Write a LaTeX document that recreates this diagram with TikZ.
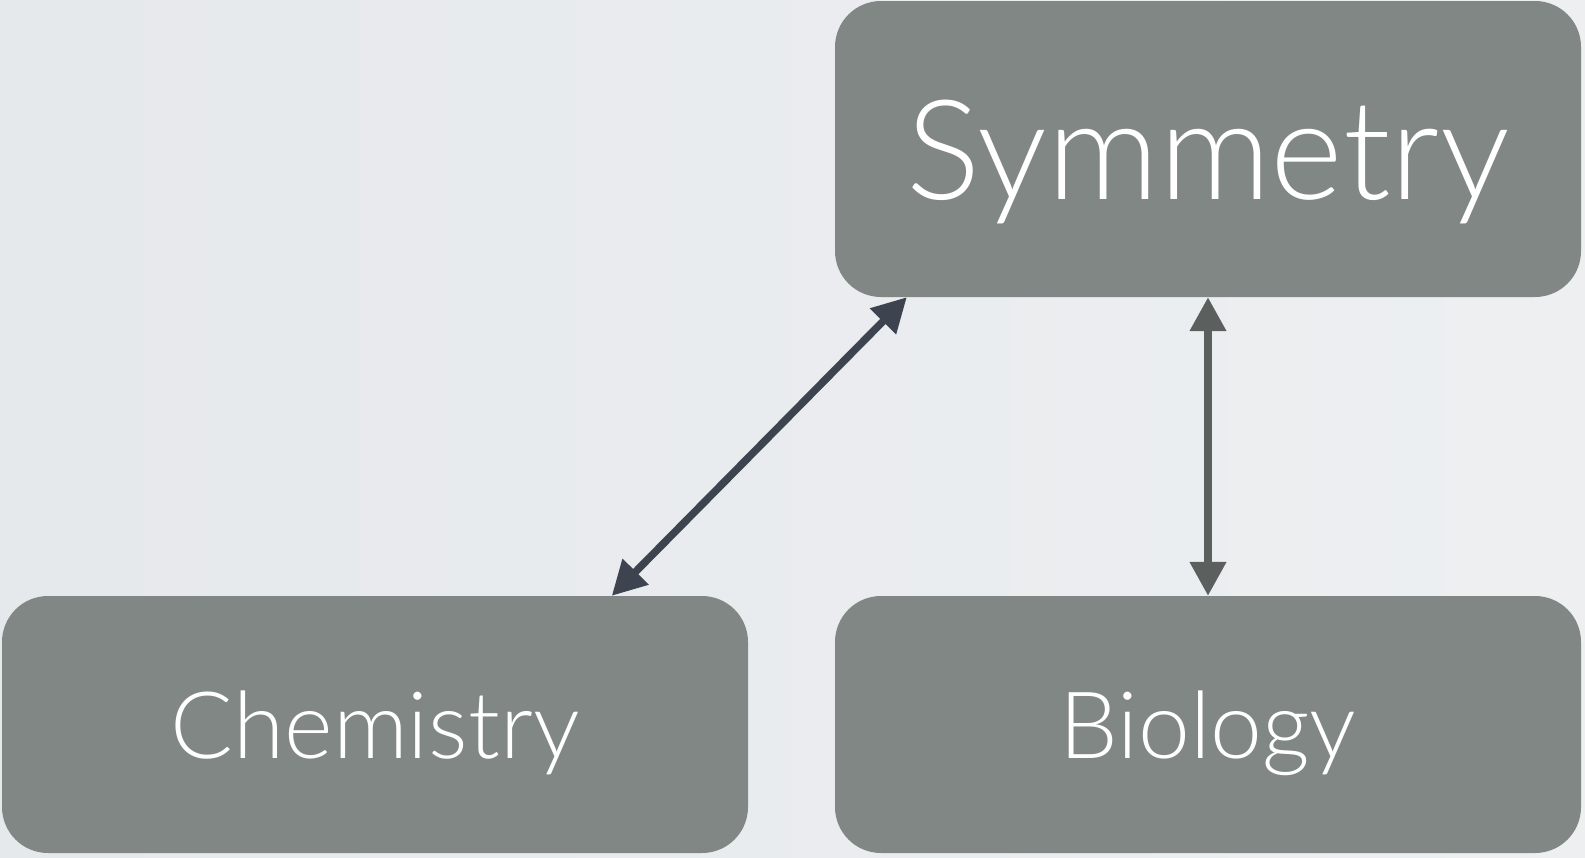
\documentclass[tikz,border=0pt]{standalone}
\usepackage{fontspec}
\setmainfont{Lato Light}
\usetikzlibrary{arrows.meta,calc}
\definecolor{boxgray}{RGB}{129,135,132}
\definecolor{linkdark}{RGB}{62,67,80}
\definecolor{linkgray}{RGB}{91,95,94}
\definecolor{bgleft}{RGB}{228,231,234}
\definecolor{bgright}{RGB}{239,241,243}
\tikzset{
  topic/.style={rectangle, rounded corners=46pt, fill=boxgray, text=white,
    inner sep=0pt, minimum width=746pt, text depth=0pt},
  bigtopic/.style={topic, minimum height=296pt, font=\fontsize{139}{160}\selectfont, text height=100pt},
  smalltopic/.style={topic, minimum height=257pt, font=\fontsize{93}{110}\selectfont, text height=67pt},
  link/.style={line width=7.5pt, {Triangle[length=34pt,width=35pt]}-{Triangle[length=34pt,width=35pt]}}
}
\begin{document}
\begin{tikzpicture}[x=1pt,y=-1pt]
  \useasboundingbox (0,0) rectangle (1585,857);
  \shade[shading angle=-60, left color=bgleft, right color=bgright] (-400,-400) rectangle (1985,1257);
  \useasboundingbox (0,0) rectangle (1585,857);
  \node[bigtopic] (sym) at (1208,149) {Symmetry};
  \node[smalltopic] (chem) at (375,724.5) {Chemistry};
  \node[smalltopic] (bio) at (1208,724.5) {Biology};
  \draw[link, linkdark] ($(chem.north west)+(610,0)$) -- ($(sym.south west)+(72,0)$);
  \draw[link, linkgray] (sym.south) -- (bio.north);
\end{tikzpicture}
\end{document}
